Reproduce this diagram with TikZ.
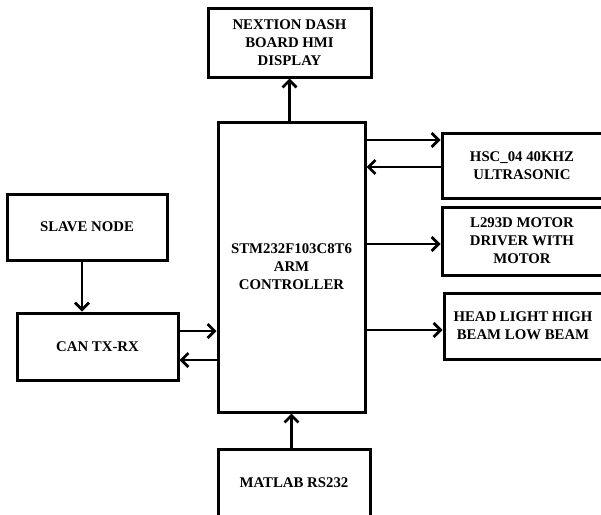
\documentclass[tikz,border=0pt]{standalone}
\usepackage{fontspec}
\setmainfont{Liberation Serif}
\usetikzlibrary{arrows.meta}
\begin{document}
\begin{tikzpicture}[
		x=1pt, y=-1pt,
		every node/.style={align=center, font=\bfseries\fontsize{14.8}{18}\selectfont},
		block/.style={rectangle, draw, line width=3pt, inner sep=0pt},
		arr/.style={line width=2.7pt, -{Straight Barb[length=7pt,width=14pt,line width=2.7pt]}}
		]
		\clip (0,0) rectangle (601,514);
		\useasboundingbox (0,0) rectangle (601,514);
		
		% Controller in the middle
		\node[block, minimum width=147pt, minimum height=290pt] (ctrl) at (291.5,267) {STM232F103C8T6\\ARM\\CONTROLLER};
		
		% Top and bottom
		\node[block, minimum width=163pt, minimum height=69pt] (disp) at (289.5,42.5) {NEXTION DASH\\BOARD HMI\\DISPLAY};
		\node[block, minimum width=152pt, minimum height=68pt] (matlab) at (294,483) {MATLAB RS232};
		
		% Right side
		\node[block, minimum width=160pt, minimum height=65pt] (hsc) at (522,165.5) {HSC\_04 40KHZ\\ULTRASONIC};
		\node[block, minimum width=160pt, minimum height=68pt] (motor) at (522,241) {L293D MOTOR\\DRIVER WITH\\MOTOR};
		\node[block, minimum width=158pt, minimum height=66pt] (head) at (523,326) {HEAD LIGHT HIGH\\BEAM LOW BEAM};
		
		% Left side
		\node[block, minimum width=160pt, minimum height=66pt] (slave) at (87,227) {SLAVE NODE};
		\node[block, minimum width=161pt, minimum height=67pt] (can) at (97.5,346.5) {CAN TX-RX};
		
		% Connections
		\draw[arr] (disp.south |- ctrl.north) -- (disp.south);
		\draw[arr] (matlab.north -| ctrl.south) -- (ctrl.south);
		\draw[arr] ([yshift=25.5pt]ctrl.east |- hsc.west) -- ([yshift=25.5pt]hsc.west);
		\draw[arr] ([yshift=-1.5pt]hsc.west) -- ([yshift=-1.5pt]ctrl.east |- hsc.west);
		\draw[arr] ([yshift=-3pt]ctrl.east |- motor.west) -- ([yshift=-3pt]motor.west);
		\draw[arr] ([yshift=-4pt]ctrl.east |- head.west) -- ([yshift=-4pt]head.west);
		\draw[arr] ([xshift=-5pt]slave.south) -- ([xshift=-5pt]slave.south |- can.north);
		\draw[arr] ([yshift=15.5pt]can.east) -- ([yshift=15.5pt]can.east -| ctrl.west);
		\draw[arr] ([yshift=-13.5pt]can.east -| ctrl.west) -- ([yshift=-13.5pt]can.east);
		
	\end{tikzpicture}
\end{document}
